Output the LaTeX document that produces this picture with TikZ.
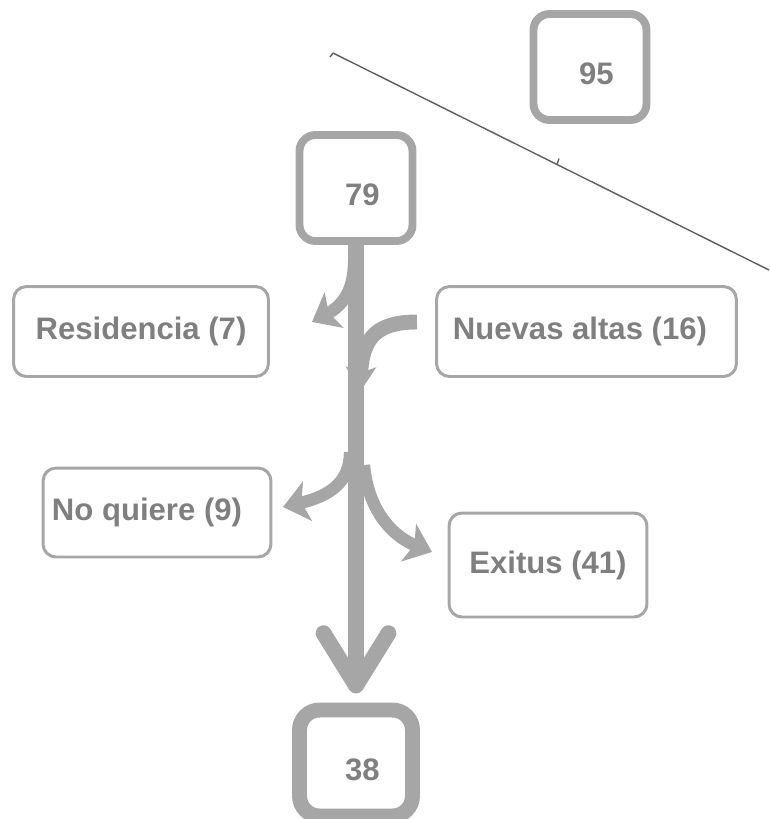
\documentclass[tikz,border=0pt]{standalone}
\usepackage{fontspec}
\setmainfont{Liberation Sans}
\usetikzlibrary{arrows.meta}
\definecolor{flowgray}{HTML}{A6A6A6}
\definecolor{textgray}{HTML}{7F7F7F}
\definecolor{linegray}{HTML}{5E5E5E}

\begin{document}
\begin{tikzpicture}[
  x=0.02cm, y=-0.02cm,
  numtext/.style={font=\bfseries\fontsize{17.7}{20}\selectfont, text=textgray, xshift=0.13cm, yshift=-0.14cm},
  numbox/.style={draw=flowgray, line width=4.5pt, rounded corners=0.32cm, minimum width=2.26cm, minimum height=2.12cm, label={[numtext]center:#1}},
  catbox/.style={draw=flowgray, line width=1.7pt, rounded corners=0.26cm, minimum height=1.8cm, align=center, font=\bfseries\fontsize{17.7}{20}\selectfont, text=textgray},
  mainflow/.style={draw=flowgray, line width=9pt, -{Straight Barb[length=1.05cm, width=1.3cm, round]}},
  branch/.style={draw=flowgray, line width=7pt, -{Stealth[length=0.5cm, width=0.8cm, inset=0.12cm]}}
]
\useasboundingbox (0,0) rectangle (769,819);

% totals
\node[numbox=95] (n95) at (590,67) {};
\node[numbox=79] (n79) at (356,188) {};
\node[numbox=38, line width=8.5pt, rounded corners=0.4cm] (n38) at (356,763) {};

% categories
\node[catbox, minimum width=5.1cm] (resid) at (141,331.5) {Residencia (7)};
\node[catbox, minimum width=6cm] (nuevas) at (586.5,331.5) {Nuevas altas (16)\hspace*{0.26cm}};
\node[catbox, minimum width=4.56cm, minimum height=1.78cm] (noquiere) at (157,512.5) {No quiere (9)\hspace*{0.4cm}};
\node[catbox, minimum width=3.96cm, minimum height=2.08cm] (exitus) at (548,565) {Exitus (41)};

% diagonal line
\coordinate (lineA) at (333,53);
\coordinate (lineB) at (769,270);
\coordinate (lineM) at (557,164.5);
\draw[linegray, line width=0.8pt] (lineA) -- (lineB);
\draw[linegray, line width=0.8pt] (lineA) -- +(-3,4);
\draw[linegray, line width=0.8pt] (lineM) -- +(2,-6);

% incoming branch, under the main flow
\coordinate (newStart) at (417,322);
\coordinate (newTip) at (360,392);
\draw[branch, line width=8.5pt, -{Stealth[length=0.5cm, width=0.6cm, inset=0.12cm]}] (newStart) .. controls (380,322) and (362,335) .. (newTip);

% main flow
\draw[mainflow, shorten >=0.18cm] (n79) -- (n38);

% outgoing branches
\coordinate (resStart) at (354,262);
\coordinate (resTip) at (312,322);
\draw[branch] (resStart) .. controls (354,295) and (338,308) .. (resTip);

\coordinate (noStart) at (350,452);
\coordinate (noTip) at (283,507);
\draw[branch] (noStart) .. controls (350,482) and (330,496) .. (noTip);

\coordinate (exStart) at (364,465);
\coordinate (exTip) at (432,552);
\draw[branch] (exStart) .. controls (368,510) and (392,536) .. (exTip);
\end{tikzpicture}
\end{document}
